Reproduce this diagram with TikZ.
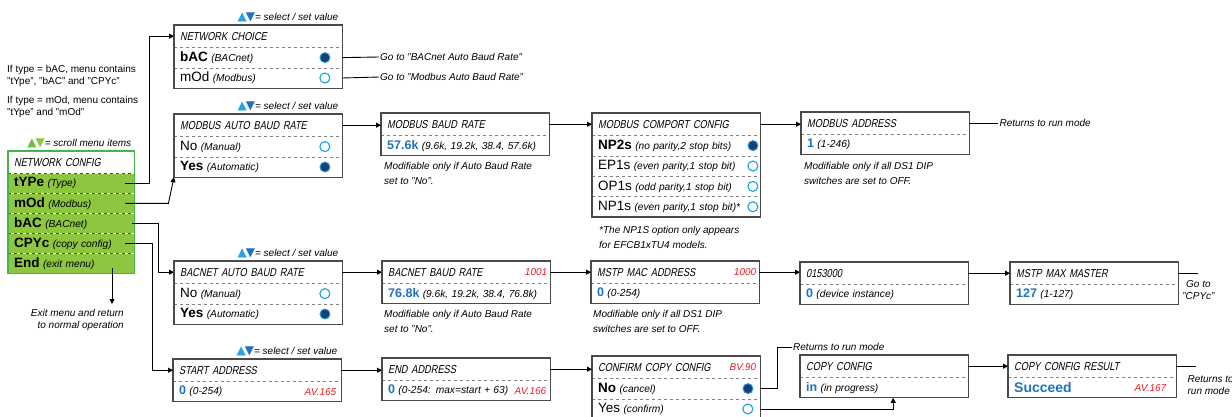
\documentclass[tikz,border=0pt]{standalone}
\usepackage{fontspec}
\setmainfont{Liberation Sans}
\newfontfamily\lcdfont{Liberation Sans}[FakeStretch=0.8,FakeSlant=0.2]
\newfontfamily\trifont{DejaVu Sans}
\usepackage{xcolor}
\usepackage{tikz}
\usetikzlibrary{arrows.meta,positioning,calc}
\definecolor{boxgray}  {HTML}{4A4A4A}
\definecolor{splitgray}{HTML}{808080}
\definecolor{valblue}  {HTML}{1E73BE}
\definecolor{avred}    {HTML}{EE1C25}
\definecolor{dotnavy}  {HTML}{1C3F72}
\definecolor{ringblue} {HTML}{1BA1E2}
\definecolor{upblue}   {HTML}{29A3E6}
\definecolor{dnblue}   {HTML}{1F70C8}
\definecolor{cfggreen} {HTML}{8DC63F}
\definecolor{cfgline}  {HTML}{45B549}
\definecolor{upgreen}  {HTML}{6CBE45}
\definecolor{dngreen}  {HTML}{8DC63F}

\newcommand{\optsel}[1]{{\fontsize{13.5}{13.5}\selectfont\bfseries #1}}
\newcommand{\optreg}[1]{{\fontsize{13.5}{13.5}\selectfont #1}}
\newcommand{\opthint}[1]{{\fontsize{10.2}{10.2}\selectfont\itshape #1}}
\newcommand{\menuval}[1]{{\fontsize{12.5}{12.5}\selectfont\bfseries\color{valblue}#1}}
\newcommand{\selkeys}{{\trifont\fontsize{12}{12}\selectfont\textcolor{upblue}{▲}\kern-1pt\textcolor{dnblue}{▼}}{\fontsize{10}{10}\selectfont\itshape= select / set value}}
\newcommand{\scrollkeys}{{\trifont\fontsize{12}{12}\selectfont\textcolor{upgreen}{▲}\kern-1pt\textcolor{dngreen}{▼}}{\fontsize{10}{10}\selectfont\itshape= scroll menu items}}

\begin{document}
\begin{tikzpicture}[x=1pt,y=-1pt,
  box/.style={draw=boxgray, line width=1.1pt},
  split/.style={draw=splitgray, dashed, line width=0.6pt},
  ttl/.style={anchor=north west, minimum width=168pt, minimum height=22pt,
    text width=156pt, inner xsep=6pt, inner ysep=0pt, align=left,
    font=\lcdfont\fontsize{11.5}{12}\selectfont},
  opt/.style={ttl, minimum height=20pt, font=\normalfont},
  cfgttl/.style={ttl, minimum width=126pt, text width=114pt, fill=white},
  cfgopt/.style={opt, minimum width=126pt, text width=114pt, minimum height=19.6pt, fill=cfggreen},
  radon/.style={circle, draw=ringblue, fill=dotnavy, line width=0.9pt, minimum size=10pt, inner sep=0pt},
  radoff/.style={circle, draw=ringblue, fill=white, line width=1.1pt, minimum size=10pt, inner sep=0pt},
  keys/.style={inner sep=0pt},
  tag/.style={font=\fontsize{10}{10}\selectfont\itshape, text=avred, inner sep=0pt},
  say/.style={font=\fontsize{10}{12}\selectfont\itshape, inner sep=1pt},
  note/.style={font=\fontsize{10}{15.5}\selectfont\itshape, align=left, inner sep=0pt},
  info/.style={font=\fontsize{10}{12}\selectfont, align=left, inner sep=0pt, anchor=north west},
  line/.style={draw=black, line width=0.9pt},
  link/.style={line, -{Triangle[length=5pt,width=5pt]}}]
  \useasboundingbox (0,0) rectangle (1232,416);

  % network config (scroll menu)
  \node[info] (ifbac) at (7,65) {If type = bAC, menu contains\\"tYpe", "bAC" and "CPYc"};
  \node[info] (ifmod) at (7,96) {If type = mOd, menu contains\\"tYpe" and "mOd"};
  \node[cfgttl] (cfg) at (8,151) {NETWORK CONFIG};
  \node[cfgopt, below=0pt of cfg]  (cfg1) {\optsel{tYPe} \opthint{(Type)}};
  \node[cfgopt, below=0pt of cfg1] (cfg2) {\optsel{mOd} \opthint{(Modbus)}};
  \node[cfgopt, below=0pt of cfg2] (cfg3) {\optsel{bAC} \opthint{(BACnet)}};
  \node[cfgopt, below=0pt of cfg3] (cfg4) {\optsel{CPYc} \opthint{(copy config)}};
  \node[cfgopt, below=0pt of cfg4] (cfg5) {\optsel{End} \opthint{(exit menu)}};
  \foreach \r in {1,...,5}
    \draw[split, draw=boxgray] (cfg\r.north west) -- (cfg\r.north east);
  \draw[box, draw=cfgline] (cfg.north west) rectangle (cfg5.south east);
  \node[keys, above left=3pt and 3pt of cfg.north east] (cfgk) {\scrollkeys};
  \coordinate (cfgx) at (112,304);
  \draw[link] ([yshift=5pt]cfg5.south -| cfgx) -- (cfgx);
  \node[say, align=right, anchor=north east] (cfgxt) at ([xshift=13pt,yshift=-4pt]cfgx)
    {Exit menu and return\\to normal operation};

  % network choice
  \node[ttl] (nc) at (174,25) {NETWORK CHOICE};
  \node[opt, below=0pt of nc]  (nc1) {\optsel{bAC} \opthint{(BACnet)}};
  \node[opt, below=0pt of nc1] (nc2) {\optreg{mOd} \opthint{(Modbus)}};
  \node[radon,  left=12pt of nc1.east] (nc1r) {};
  \node[radoff, left=12pt of nc2.east] (nc2r) {};
  \draw[split] (nc1.north west) -- (nc1.north east) (nc2.north west) -- (nc2.north east);
  \draw[box] (nc.north west) rectangle (nc2.south east);
  \node[keys, above left=3pt and 4pt of nc.north east] (nck) {\selkeys};
  \node[say, anchor=west] (gobac) at (379,57) {Go to "BACnet Auto Baud Rate"};
  \node[say, anchor=west] (gomod) at (379,77) {Go to "Modbus Auto Baud Rate"};

  % modbus row
  \node[ttl] (ma) at (174,114) {MODBUS AUTO BAUD RATE};
  \node[opt, below=0pt of ma]  (ma1) {\optreg{No} \opthint{(Manual)}};
  \node[opt, below=0pt of ma1] (ma2) {\optsel{Yes} \opthint{(Automatic)}};
  \node[radoff, left=12pt of ma1.east] (ma1r) {};
  \node[radon,  left=12pt of ma2.east] (ma2r) {};
  \draw[split] (ma1.north west) -- (ma1.north east) (ma2.north west) -- (ma2.north east);
  \draw[box] (ma.north west) rectangle (ma2.south east);
  \node[keys, above left=3pt and 4pt of ma.north east] (mak) {\selkeys};

  \node[ttl] (mb) at (381,113) {MODBUS BAUD RATE};
  \node[opt, below=0pt of mb] (mb1) {\menuval{57.6k} \opthint{(9.6k, 19.2k, 38.4, 57.6k)}};
  \draw[split] (mb1.north west) -- (mb1.north east);
  \draw[box] (mb.north west) rectangle (mb1.south east);
  \node[note, below right=6pt and 3pt of mb1.south west] (mbn)
    {Modifiable only if Auto Baud Rate\\set to "No".};

  \node[ttl] (mc) at (592,113) {MODBUS COMPORT CONFIG};
  \node[opt, below=0pt of mc]  (mc1) {\optsel{NP2s} \opthint{(no parity,2 stop bits)}};
  \node[opt, below=0pt of mc1] (mc2) {\optreg{EP1s} \opthint{(even parity,1 stop bit)}};
  \node[opt, below=0pt of mc2] (mc3) {\optreg{OP1s} \opthint{(odd parity,1 stop bit)}};
  \node[opt, below=0pt of mc3] (mc4) {\optreg{NP1s} \opthint{(even parity,1 stop bit)*}};
  \node[radon,  left=2pt of mc1.east] (mc1r) {};
  \node[radoff, left=2pt of mc2.east] (mc2r) {};
  \node[radoff, left=2pt of mc3.east] (mc3r) {};
  \node[radoff, left=2pt of mc4.east] (mc4r) {};
  \foreach \r in {1,...,4}
    \draw[split] (mc\r.north west) -- (mc\r.north east);
  \draw[box] (mc.north west) rectangle (mc4.south east);
  \node[note, below right=9pt and 7pt of mc4.south west] (mcn)
    {*The NP1S option only appears\\for EFCB1xTU4 models.};

  \node[ttl] (md) at (801,112) {MODBUS ADDRESS};
  \node[opt, below=0pt of md] (md1) {\menuval{1} \opthint{(1-246)}};
  \draw[split] (md1.north west) -- (md1.north east);
  \draw[box] (md.north west) rectangle (md1.south east);
  \node[note, below right=7pt and 3pt of md1.south west] (mdn)
    {Modifiable only if all DS1 DIP\\switches are set to OFF.};
  \node[say, right=29pt of md.east] (mdr) {Returns to run mode};

  % bacnet row
  \node[ttl] (ba) at (174,261) {BACNET AUTO BAUD RATE};
  \node[opt, below=0pt of ba]  (ba1) {\optreg{No} \opthint{(Manual)}};
  \node[opt, below=0pt of ba1] (ba2) {\optsel{Yes} \opthint{(Automatic)}};
  \node[radoff, left=12pt of ba1.east] (ba1r) {};
  \node[radon,  left=12pt of ba2.east] (ba2r) {};
  \draw[split] (ba1.north west) -- (ba1.north east) (ba2.north west) -- (ba2.north east);
  \draw[box] (ba.north west) rectangle (ba2.south east);
  \node[keys, above left=3pt and 4pt of ba.north east] (bak) {\selkeys};

  \node[ttl] (bb) at (382,261) {BACNET BAUD RATE};
  \node[opt, below=0pt of bb] (bb1) {\menuval{76.8k} \opthint{(9.6k, 19.2k, 38.4, 76.8k)}};
  \node[tag, left=3pt of bb.east] (bbt) {1001};
  \draw[split] (bb1.north west) -- (bb1.north east);
  \draw[box] (bb.north west) rectangle (bb1.south east);
  \node[note, below right=6pt and 2pt of bb1.south west] (bbn)
    {Modifiable only if Auto Baud Rate\\set to "No".};

  \node[ttl] (bm) at (591,261) {MSTP MAC ADDRESS};
  \node[opt, below=0pt of bm] (bm1) {\menuval{0} \opthint{(0-254)}};
  \node[tag, left=3pt of bm.east] (bmt) {1000};
  \draw[split] (bm1.north west) -- (bm1.north east);
  \draw[box] (bm.north west) rectangle (bm1.south east);
  \node[note, below right=6pt and 2pt of bm1.south west] (bmn)
    {Modifiable only if all DS1 DIP\\switches are set to OFF.};

  \node[ttl] (bd) at (800,262) {0153000};
  \node[opt, below=0pt of bd] (bd1) {\menuval{0} \opthint{(device instance)}};
  \draw[split] (bd1.north west) -- (bd1.north east);
  \draw[box] (bd.north west) rectangle (bd1.south east);

  \node[ttl] (bx) at (1010,262) {MSTP MAX MASTER};
  \node[opt, below=0pt of bx] (bx1) {\menuval{127} \opthint{(1-127)}};
  \draw[split] (bx1.north west) -- (bx1.north east);
  \draw[box] (bx.north west) rectangle (bx1.south east);
  \coordinate (bxend) at ([xshift=20pt]bx.east);
  \node[say, align=center, below=6pt of bxend] (bxgo) {Go to\\"CPYc"};

  % copy row
  \node[ttl] (sa) at (173,359) {START ADDRESS};
  \node[opt, below=0pt of sa] (sa1) {\menuval{0} \opthint{(0-254)}};
  \node[tag, left=5pt of sa1.east] (sat) {AV.165};
  \draw[split] (sa1.north west) -- (sa1.north east);
  \draw[box] (sa.north west) rectangle (sa1.south east);
  \node[keys, above left=3pt and 4pt of sa.north east] (sak) {\selkeys};

  \node[ttl] (ea) at (382,358) {END ADDRESS};
  \node[opt, below=0pt of ea] (ea1) {\menuval{0} \opthint{(0-254: max=start + 63)}};
  \node[tag, left=4pt of ea1.east] (eat) {AV.166};
  \draw[split] (ea1.north west) -- (ea1.north east);
  \draw[box] (ea.north west) rectangle (ea1.south east);

  \node[ttl] (cc) at (592,356) {CONFIRM COPY CONFIG};
  \node[opt, below=0pt of cc]  (cc1) {\optsel{No} \opthint{(cancel)}};
  \node[opt, below=0pt of cc1] (cc2) {\optreg{Yes} \opthint{(confirm)}};
  \node[tag, left=4pt of cc.east] (cct) {BV.90};
  \node[radon,  left=7pt of cc1.east] (cc1r) {};
  \node[radoff, left=7pt of cc2.east] (cc2r) {};
  \draw[split] (cc1.north west) -- (cc1.north east) (cc2.north west) -- (cc2.north east);
  \draw[box] (cc.north west) rectangle (cc2.south east);
  \node[say, anchor=west] (ccr) at (792,347) {Returns to run mode};

  \node[ttl] (cp) at (800,355) {COPY CONFIG};
  \node[opt, below=0pt of cp] (cp1) {\menuval{in} \opthint{(in progress)}};
  \draw[split] (cp1.north west) -- (cp1.north east);
  \draw[box] (cp.north west) rectangle (cp1.south east);

  \node[ttl] (cr) at (1008,355) {COPY CONFIG RESULT};
  \node[opt, below=0pt of cr] (cr1) {{\fontsize{14}{14}\selectfont\bfseries\color{valblue}Succeed}};
  \node[tag, left=10pt of cr1.east] (crt) {AV.167};
  \draw[split] (cr1.north west) -- (cr1.north east);
  \draw[box] (cr.north west) rectangle (cr1.south east);
  \coordinate (crend) at ([xshift=20pt]cr.east);
  \node[say, align=left, anchor=north west] (crr) at ([xshift=-10pt,yshift=-8pt]crend)
    {Returns to\\run mode};

  % connectors
  \draw[link] ([xshift=-9pt]cfg1.east) -- ++(24,0) |- (nc.west);
  \draw[link] ([xshift=-9pt]cfg2.east) -- ++(43,0) -- (ma2.south west);
  \draw[link] ([xshift=-2pt]cfg3.east) -- ++(26,0) |- (ba.west);
  \draw[link] ([xshift=-9pt]cfg4.east) -- ++(27,0) |- (sa.west);
  \draw[line] (nc1.east) -- (gobac.west);
  \draw[line] (nc2.east) -- (gomod.west);
  \draw[link] (ma.east) -- (ma.east -| mb.west);
  \draw[link] (mb.east) -- (mb.east -| mc.west);
  \draw[link] (mc.east) -- (mc.east -| md.west);
  \draw[line] (md.east) -- (mdr.west);
  \draw[link] (ba.east) -- (ba.east -| bb.west);
  \draw[link] (bb.east) -- (bb.east -| bm.west);
  \draw[link] (bm.east) -- (bm.east -| bd.west);
  \draw[link] (bd.east) -- (bd.east -| bx.west);
  \draw[line] (bx.east) -- (bxend);
  \draw[link] (sa.east) -- (sa.east -| ea.west);
  \draw[link] (ea.east) -- (ea.east -| cc.west);
  \draw[line] (cc1.east) -- ++(17,0) |- (ccr.west);
  \draw[link] (cc2.east) -| ([xshift=9pt]cp1.south);
  \draw[link] (cp.east) -- (cp.east -| cr.west);
  \draw[line] (cr.east) -- (crend);
\end{tikzpicture}
\end{document}
